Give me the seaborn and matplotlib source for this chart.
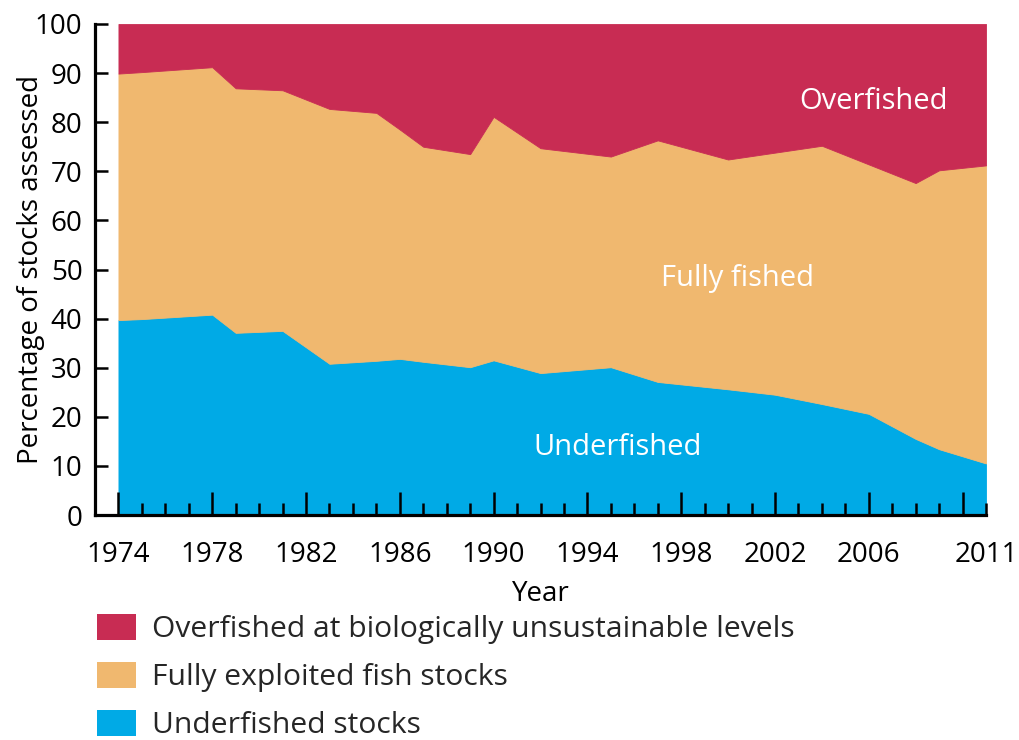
import matplotlib
matplotlib.use("Agg")
import matplotlib.pyplot as plt
from matplotlib.patches import Patch
from matplotlib.ticker import FixedLocator, FuncFormatter
import seaborn as sns

years = [1974, 1975, 1978, 1979, 1981, 1983, 1985, 1986, 1987, 1989, 1990,
         1992, 1995, 1997, 2000, 2002, 2004, 2006, 2008, 2009, 2011]
underfished = [39.7, 39.9, 40.8, 37.1, 37.5, 30.8, 31.4, 31.8, 31.2, 30.1, 31.5,
               28.9, 30.1, 27.1, 25.6, 24.5, 22.6, 20.6, 15.5, 13.4, 10.5]
fully_fished = [50.2, 50.3, 50.4, 49.8, 49.0, 51.9, 50.5, 46.7, 43.8, 43.4, 49.6,
                45.8, 42.9, 49.2, 46.8, 49.3, 52.6, 50.8, 52.1, 56.8, 60.7]
overfished = [10.1, 9.8, 8.8, 13.1, 13.5, 17.3, 18.1, 21.5, 25.0, 26.5, 18.9,
              25.3, 27.0, 23.7, 27.6, 26.2, 24.8, 28.6, 32.4, 29.8, 28.8]

series_names = ["Underfished stocks", "Fully exploited fish stocks",
                "Overfished at biologically unsustainable levels"]
colors = ["#00AAE6", "#F0B86F", "#C82C53"]
area_labels = ["Underfished", "Fully fished", "Overfished"]

major_ticks = [1974, 1978, 1982, 1986, 1990, 1994, 1998, 2002, 2006, 2010]
major_labels = ["1974", "1978", "1982", "1986", "1990", "1994", "1998", "2002", "2006", ""]
y_ticks = [0, 10, 20, 30, 40, 50, 60, 70, 80, 90, 100]

sns.set_theme(style="ticks")
plt.rcParams["font.family"] = ["Open Sans", "DejaVu Sans"]

fig = plt.figure(figsize=(10.19, 7.40), dpi=100)
ax = fig.add_axes([95 / 1019, 1 - 515 / 740, 891 / 1019, 491 / 740])

polys = ax.stackplot(years, underfished, fully_fished, overfished,
                     colors=colors, linewidth=0.6)
for p, c in zip(polys, colors):
    p.set_edgecolor(c)
ax.set_axisbelow(False)

ax.set_xlim(1973, 2011)
ax.set_ylim(0, 100)
ax.set_yticks(y_ticks)
ax.xaxis.set_major_locator(FixedLocator(major_ticks))
ax.set_xticklabels(major_labels)
minor = [y for y in range(1975, 2012) if y not in major_ticks]
ax.xaxis.set_minor_locator(FixedLocator(minor))
ax.xaxis.set_minor_formatter(FuncFormatter(lambda v, pos: "2011" if abs(v - 2011) < 0.01 else ""))

sns.despine(ax=ax)
for s in ["left", "bottom"]:
    ax.spines[s].set_linewidth(2.3)
    ax.spines[s].set_color("black")

ax.tick_params(axis="x", which="major", direction="in", length=16.5, width=1.8,
               labelsize=20, pad=19, colors="black")
ax.tick_params(axis="x", which="minor", direction="in", length=8.6, width=1.8,
               labelsize=20, pad=19, colors="black")
ax.tick_params(axis="y", which="major", direction="in", length=9.5, width=1.8,
               labelsize=20, pad=9, colors="black")

ax.set_xlabel("Year", fontsize=20, color="black")
ax.xaxis.set_label_coords(0.5, -0.132)
ax.set_ylabel("Percentage of stocks assessed", fontsize=20, color="black")
ax.yaxis.set_label_coords(-0.056, 0.5)

ax.text(2006.2, 82.7, area_labels[2], color="white", fontsize=21, ha="center", va="baseline")
ax.text(2000.4, 46.6, area_labels[1], color="white", fontsize=21, ha="center", va="baseline")
ax.text(1995.3, 12.2, area_labels[0], color="white", fontsize=21, ha="center", va="baseline")

handles = [Patch(facecolor=colors[i], edgecolor="none", label=series_names[i]) for i in [2, 1, 0]]
fig.legend(handles=handles, loc="upper left", bbox_to_anchor=(97 / 1019, 1 - 614 / 740),
           frameon=False, fontsize=21.6, handlelength=1.29, handleheight=0.97,
           handletextpad=0.54, labelspacing=0.58, borderpad=0, borderaxespad=0)

fig.savefig("out.png", dpi=100)
